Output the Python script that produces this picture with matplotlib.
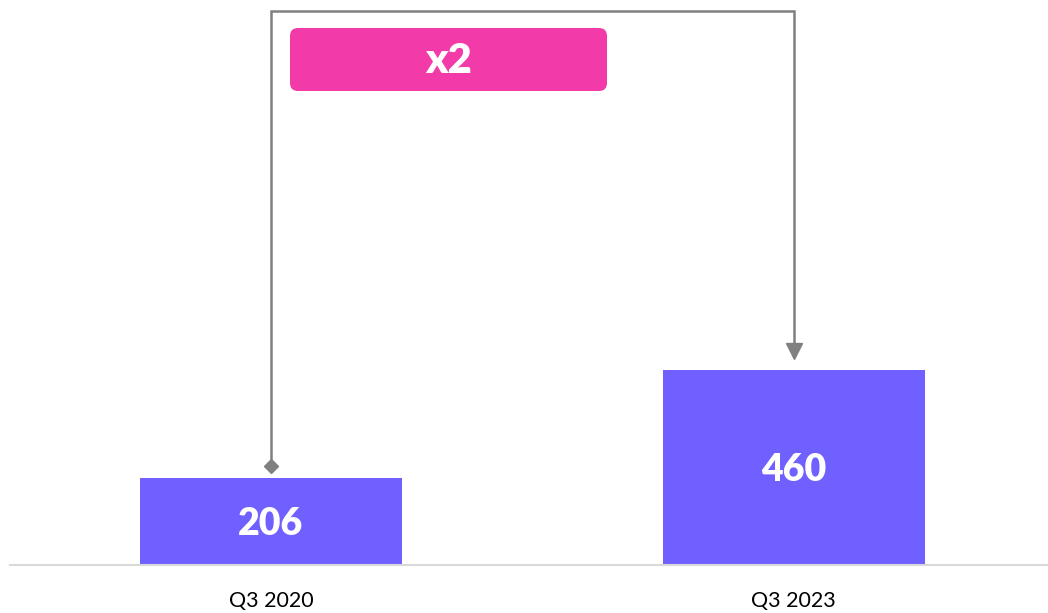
import matplotlib.pyplot as plt
from matplotlib.patches import FancyBboxPatch

categories = ["Q3 2020", "Q3 2023"]
values = [206, 460]
ratio_label = "x2"

bar_color = "#7060FF"
pink = "#F23BA8"
grey = "#808080"

plt.rcParams['font.family'] = ['Lato', 'DejaVu Sans']

fig = plt.figure(figsize=(10.48, 6.13), dpi=100)
ax = fig.add_axes([10 / 1048, 48 / 613, 1 - 10 / 1048, 1 - 48 / 613])

x = range(len(categories))
bars = ax.bar(x, values, width=0.5, color=bar_color, zorder=2)
for b, v in zip(bars, values):
    ax.text(b.get_x() + b.get_width() / 2, v / 2 - 6, str(v), ha="center", va="center",
            color="white", fontsize=27, fontweight="heavy")

ax.set_xlim(-0.499, 1.486)
ax.set_ylim(0, 1333)
ax.set_xticks(list(x))
ax.set_xticklabels(categories, fontsize=15.5)
ax.tick_params(axis="x", length=0, pad=19)
ax.set_yticks([])
for s in ["top", "left", "right"]:
    ax.spines[s].set_visible(False)
ax.spines["bottom"].set_color("#D9D9D9")
ax.spines["bottom"].set_linewidth(1.5)

# bracket from first bar to second bar
top = 1307
y0 = values[0] + 27
y1 = values[1] + 30
ax.plot([0, 0, 1, 1], [y0, top, top, y1 + 22], color=grey, lw=1.8, zorder=3,
        solid_joinstyle="miter")
ax.plot(0, y0, marker="D", color=grey, markersize=7, zorder=4)
ax.plot(1, y1 + 14, marker="v", color=grey, markersize=11, zorder=4)

# pink label box, in its own pixel-scaled axes
bax = fig.add_axes([290 / 1048, (613 - 91) / 613, 317 / 1048, 63 / 613])
bax.set_xlim(0, 317)
bax.set_ylim(0, 63)
bax.axis("off")
bax.add_patch(FancyBboxPatch((0, 0), 317, 63, boxstyle="round,pad=0,rounding_size=8",
                             facecolor=pink, edgecolor="none"))
bax.text(158.5, 30, ratio_label, ha="center", va="center", color="white",
         fontsize=30, fontweight="heavy")

fig.savefig("out.png", dpi=100)
